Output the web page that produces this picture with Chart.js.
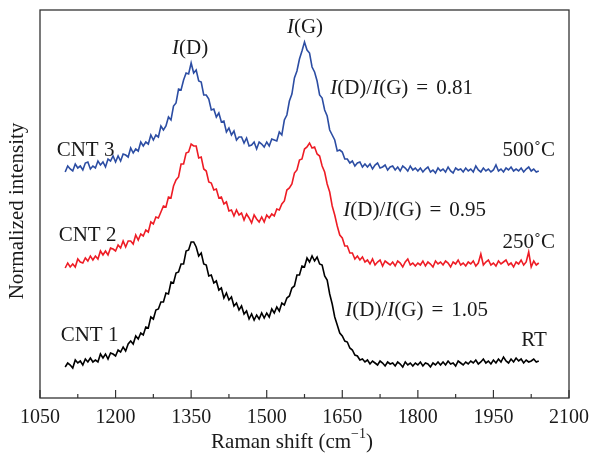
<!DOCTYPE html>
<html>
<head>
<meta charset="utf-8">
<script src="https://cdn.jsdelivr.net/npm/chart.js@4.4.1/dist/chart.umd.min.js"></script>
<style>
  html, body { margin: 0; padding: 0; background: #fff; }
</style>
</head>
<body>
<canvas id="raman" width="592" height="461"></canvas>
<script>
// Raman shift: one reading every 5 cm-1 starting at 1100
const inicio = 1100;
const paso = 5;
const ticksX = [1050, 1200, 1350, 1500, 1650, 1800, 1950, 2100];

// intensities (arbitrary units, curves already offset for stacking)
const cnt3 = [
  226, 232, 229, 227, 234, 230, 232, 228, 235, 236,
  229, 232, 230, 237, 233, 236, 231, 239, 237, 242,
  236, 242, 237, 244, 243, 241, 250, 245, 249, 247,
  256, 252, 256, 254, 263, 258, 263, 261, 272, 268,
  272, 281, 278, 292, 295, 309, 308, 318, 325, 324,
  335, 325, 328, 317, 316, 303, 303, 299, 288, 289,
  281, 285, 276, 277, 266, 270, 263, 267, 258, 261,
  261, 255, 260, 252, 253, 256, 249, 256, 254, 251,
  256, 252, 259, 258, 257, 266, 263, 278, 283, 297,
  304, 320, 327, 339, 347, 356, 348, 345, 331, 326,
  317, 303, 300, 288, 282, 268, 263, 258, 247, 248,
  246, 239, 239, 235, 237, 232, 235, 236, 231, 234,
  231, 234, 229, 233, 235, 230, 231, 233, 228, 231,
  232, 228, 231, 227, 232, 230, 227, 232, 228, 230,
  227, 230, 226, 229, 231, 226, 228, 225, 230, 227,
  229, 226, 231, 227, 225, 230, 228, 229, 226, 230,
  227, 229, 226, 232, 228, 226, 230, 227, 229, 226,
  228, 233, 227, 229, 226, 230, 228, 231, 227, 229,
  227, 230, 226, 229, 231, 227, 229, 226, 227
];
const cnt2 = [
  130, 135, 131, 134, 131, 139, 136, 135, 140, 137,
  142, 138, 142, 139, 147, 143, 147, 143, 150, 149,
  147, 153, 150, 157, 151, 157, 157, 154, 163, 158,
  164, 162, 168, 166, 176, 174, 181, 180, 186, 192,
  191, 201, 200, 212, 218, 221, 234, 234, 245, 246,
  254, 252, 252, 240, 241, 229, 227, 216, 215, 208,
  209, 200, 201, 194, 196, 187, 188, 182, 188, 183,
  185, 178, 184, 180, 175, 183, 179, 176, 181, 176,
  183, 180, 184, 182, 189, 188, 194, 197, 208, 210,
  214, 225, 228, 238, 239, 249, 251, 255, 250, 251,
  244, 242, 232, 226, 214, 206, 192, 183, 172, 163,
  160, 152, 152, 145, 145, 139, 142, 138, 141, 136,
  138, 134, 139, 133, 136, 138, 132, 137, 135, 133,
  136, 132, 137, 135, 131, 136, 139, 133, 135, 132,
  135, 133, 137, 132, 136, 134, 131, 137, 134, 136,
  133, 137, 135, 131, 136, 134, 138, 133, 135, 132,
  136, 134, 137, 132, 135, 144, 133, 136, 138, 133,
  135, 132, 137, 134, 136, 138, 133, 135, 131, 136,
  134, 138, 133, 136, 146, 131, 137, 133, 135
];
const cnt1 = [
  31, 35, 33, 30, 38, 35, 37, 33, 39, 36,
  40, 36, 38, 36, 44, 40, 44, 39, 45, 44,
  42, 48, 46, 51, 47, 54, 57, 54, 62, 59,
  65, 63, 71, 70, 81, 79, 88, 89, 96, 96,
  105, 104, 116, 115, 125, 126, 134, 134, 147, 148,
  156, 156, 151, 142, 145, 134, 133, 122, 123, 115,
  117, 108, 110, 100, 105, 98, 101, 92, 95, 88,
  92, 84, 87, 79, 84, 78, 83, 79, 85, 80,
  85, 81, 89, 85, 91, 87, 95, 93, 100, 102,
  110, 112, 123, 123, 132, 131, 140, 136, 142, 137,
  141, 134, 133, 122, 118, 104, 94, 81, 73, 65,
  62, 57, 56, 50, 48, 43, 42, 38, 39, 36,
  38, 34, 37, 35, 33, 37, 35, 32, 36, 34,
  35, 32, 36, 34, 31, 36, 33, 35, 32, 35,
  33, 36, 32, 35, 34, 31, 35, 33, 36, 33,
  36, 33, 37, 34, 35, 32, 37, 35, 33, 36,
  34, 37, 35, 38, 34, 36, 39, 35, 37, 34,
  38, 35, 39, 36, 41, 37, 35, 39, 36, 40,
  37, 39, 35, 38, 36, 37, 39, 36, 37
];

const fuente = '"Liberation Serif", "Times New Roman", serif';
const tinta = '#1a1a1a';

// text labels at data positions; pieces are [text, italic] or a gap in px
const cociente = v => [['I', true], ['(D)/', false], ['I', true], ['(G)', false], 8, ['=', false], 8, [v, false]];
const etiquetas = [
  { x: 1348, y: 350, alin: 'center', partes: [['I', true], ['(D)', false]] },
  { x: 1576, y: 371, alin: 'center', partes: [['I', true], ['(G)', false]] },
  { x: 1626, y: 310, alin: 'left', partes: cociente('0.81') },
  { x: 1652, y: 188, alin: 'left', partes: cociente('0.95') },
  { x: 1656, y: 88, alin: 'left', partes: cociente('1.05') },
  { x: 2072, y: 248, alin: 'right', partes: [['500\u02DAC', false]] },
  { x: 2072, y: 156, alin: 'right', partes: [['250\u02DAC', false]] },
  { x: 2056, y: 58, alin: 'right', partes: [['RT', false]] },
  { x: 1083, y: 248, alin: 'left', partes: [['CNT 3', false]] },
  { x: 1087, y: 163, alin: 'left', partes: [['CNT 2', false]] },
  { x: 1091, y: 63, alin: 'left', partes: [['CNT 1', false]] }
];

function serie(valores) {
  return valores.map((v, i) => ({ x: inicio + i * paso, y: v }));
}

function textoMixto(ctx, partes, x, y, alin) {
  const medir = p => {
    if (typeof p === 'number') return p;
    ctx.font = (p[1] ? 'italic ' : '') + '21px ' + fuente;
    return ctx.measureText(p[0]).width;
  };
  const ancho = partes.reduce((s, p) => s + medir(p), 0);
  let cx = alin === 'right' ? x - ancho : alin === 'center' ? x - ancho / 2 : x;
  partes.forEach(p => {
    const w = medir(p);
    if (typeof p !== 'number') ctx.fillText(p[0], cx, y);
    cx += w;
  });
}

const marco = {
  id: 'marco',
  afterDraw(chart) {
    const { ctx, chartArea: a, scales: { x, y } } = chart;
    ctx.save();
    ctx.strokeStyle = '#333';
    ctx.lineWidth = 1.3;
    ctx.strokeRect(a.left, a.top, a.right - a.left, a.bottom - a.top);
    ctx.lineWidth = 1.2;
    for (let v = 1050; v <= 2100; v += 75) {
      const px = x.getPixelForValue(v);
      const largo = (v - 1050) % 150 === 0 ? 8 : 4;
      ctx.beginPath();
      ctx.moveTo(px, a.bottom);
      ctx.lineTo(px, a.bottom - largo);
      ctx.stroke();
    }

    ctx.fillStyle = tinta;
    ctx.textBaseline = 'middle';
    etiquetas.forEach(e => {
      textoMixto(ctx, e.partes, x.getPixelForValue(e.x), y.getPixelForValue(e.y), e.alin);
    });

    // x axis title with superscript
    const base = 'Raman shift (cm';
    ctx.font = '21px ' + fuente;
    const w1 = ctx.measureText(base).width;
    ctx.font = '14px ' + fuente;
    const w2 = ctx.measureText('\u22121').width;
    ctx.font = '21px ' + fuente;
    const w3 = ctx.measureText(')').width;
    let tx = 292 - (w1 + w2 + w3) / 2;
    const ty = 442;
    ctx.fillText(base, tx, ty);
    tx += w1;
    ctx.font = '14px ' + fuente;
    ctx.fillText('\u22121', tx, ty - 8);
    tx += w2;
    ctx.font = '21px ' + fuente;
    ctx.fillText(')', tx, ty);

    // y axis title
    ctx.save();
    ctx.translate(17, 211);
    ctx.rotate(-Math.PI / 2);
    ctx.textAlign = 'center';
    ctx.fillText('Normalized intensity', 0, 0);
    ctx.restore();

    ctx.restore();
  }
};

new Chart(document.getElementById('raman'), {
  type: 'line',
  data: {
    datasets: [
      { label: 'CNT 1', data: serie(cnt1), borderColor: '#000000' },
      { label: 'CNT 2', data: serie(cnt2), borderColor: '#ee1c25' },
      { label: 'CNT 3', data: serie(cnt3), borderColor: '#2c4da3' }
    ]
  },
  options: {
    responsive: false,
    animation: false,
    layout: { padding: { left: 40, right: 23, top: 10, bottom: 0 } },
    elements: {
      point: { radius: 0 },
      line: { borderWidth: 1.6, tension: 0 }
    },
    plugins: { legend: { display: false }, tooltip: { enabled: false } },
    scales: {
      x: {
        type: 'linear',
        min: 1050,
        max: 2100,
        grid: { display: false, drawTicks: false },
        border: { display: false },
        afterBuildTicks: s => { s.ticks = ticksX.map(v => ({ value: v })); },
        afterFit: s => {
          s.height = 63;
          s.paddingLeft = 0;
          s.paddingRight = 0;
        },
        ticks: {
          autoSkip: false,
          maxRotation: 0,
          padding: 8,
          color: tinta,
          font: { family: fuente, size: 20 },
          callback: v => String(v)
        }
      },
      y: { display: false, min: 0, max: 388 }
    }
  },
  plugins: [marco]
});
</script>
</body>
</html>
